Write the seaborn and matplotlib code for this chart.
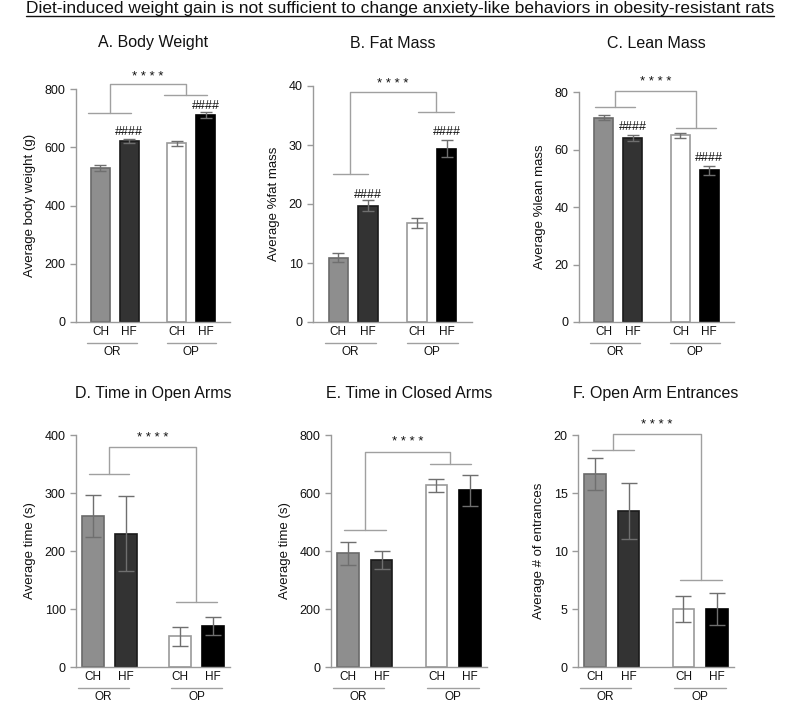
import matplotlib
matplotlib.use("Agg")
import matplotlib.pyplot as plt
from matplotlib.lines import Line2D
import numpy as np
import pandas as pd
import seaborn as sns

# bars in every panel: OR rats (chow, high fat), OP rats (chow, high fat)
bar_groups = ["OR", "OP"]
bar_diets = ["CH", "HF", "CH", "HF"]
bar_keys = ["OR-CH", "OR-HF", "OP-CH", "OP-HF"]

main_title = "Diet-induced weight gain is not sufficient to change anxiety-like behaviors in obesity-resistant rats"
panel_titles = ["A. Body Weight", "B. Fat Mass", "C. Lean Mass",
                "D. Time in Open Arms", "E. Time in Closed Arms", "F. Open Arm Entrances"]
y_labels = ["Average body weight (g)", "Average %fat mass", "Average %lean mass",
            "Average time (s)", "Average time (s)", "Average # of entrances"]
y_max = [800, 40, 80, 400, 800, 20]
y_step = [200, 10, 20, 100, 200, 5]

# means and SEM
body_weight = [528, 622, 613, 711]
body_weight_sem = [11, 8, 8, 9]
fat_mass = [10.9, 19.7, 16.7, 29.4]
fat_mass_sem = [0.8, 0.9, 0.85, 1.4]
lean_mass = [71.0, 63.9, 64.9, 52.7]
lean_mass_sem = [0.9, 1.0, 0.8, 1.5]
open_arm_time = [261, 230, 53, 71]
open_arm_time_sem = [36, 64, 16, 16]
closed_arm_time = [392, 369, 626, 609]
closed_arm_time_sem = [39, 32, 21, 54]
open_arm_entries = [16.65, 13.47, 5.0, 5.0]
open_arm_entries_sem = [1.35, 2.4, 1.08, 1.4]

panel_means = [body_weight, fat_mass, lean_mass, open_arm_time, closed_arm_time, open_arm_entries]
panel_sems = [body_weight_sem, fat_mass_sem, lean_mass_sem,
              open_arm_time_sem, closed_arm_time_sem, open_arm_entries_sem]

# "####" (diet effect) marks: (bar index, height)
hash_marks = [[(1, 651), (3, 742)], [(1, 21.6), (3, 32.2)], [(1, 67.9), (3, 57.2)], [], [], []]

# "****" phenotype bracket: OR line (y, x0, x1), OP line (y, x0, x1), top y, star y
brackets = [
    ((717, -0.42, 1.07), (780, 2.22, 3.70), 817, 840),
    ((25.1, -0.18, 1.00), (35.6, 2.67, 3.88), 38.9, 40.4),
    ((74.7, -0.29, 1.09), (67.4, 2.50, 3.88), 80.5, 83.4),
    ((332, -0.13, 1.10), (112.6, 2.53, 3.76), 379, 394),
    ((472, -0.12, 1.13), (700, 2.45, 3.69), 743, 776),
    ((18.74, -0.10, 1.17), (7.48, 2.56, 3.80), 20.1, 20.85),
]

# layout / style
bar_pos = np.array([0, 1, 2.65, 3.65])
bar_fill = ["#8e8e8e", "#333333", "#ffffff", "#000000"]
bar_edge = ["#6a6a6a", "#1a1a1a", "#9a9a9a", "#000000"]
err_color = "#6f6f6f"
line_gray = "#a0a0a0"
W, H = 800, 703
axes_px = [(76, 89, 230, 322), (313, 86, 472, 322), (579, 92, 734, 322),
           (76, 435, 230, 667), (331, 435, 487, 667), (578, 435, 734, 667)]

sns.set_style("white")
plt.rcParams["font.family"] = ["Liberation Sans", "DejaVu Sans"]
plt.rcParams["axes.edgecolor"] = "#9a9a9a"

fig = plt.figure(figsize=(W / 100, H / 100), dpi=100)

for i in range(6):
    x0, y0, x1, y1 = axes_px[i]
    ax = fig.add_axes([x0 / W, 1 - y1 / H, (x1 - x0) / W, (y1 - y0) / H])
    top_row = i < 3

    df = pd.DataFrame({"pos": bar_pos, "mean": panel_means[i], "key": bar_keys})
    sns.barplot(data=df, x="pos", y="mean", hue="key", hue_order=bar_keys,
                palette=dict(zip(bar_keys, bar_fill)), native_scale=True,
                width=0.65, saturation=1, errorbar=None, legend=False, ax=ax)
    for p in ax.patches:
        k = int(np.argmin(np.abs(bar_pos - (p.get_x() + p.get_width() / 2))))
        p.set_edgecolor(bar_edge[k])
        p.set_linewidth(1.2)
        p.set_zorder(2)
    ax.errorbar(bar_pos, panel_means[i], yerr=panel_sems[i], fmt="none",
                ecolor=err_color, elinewidth=1, capsize=4 if top_row else 5.5,
                capthick=1, zorder=3)

    ax.set_xlim((-0.85, 4.5) if top_row else (-0.52, 4.17))
    ax.set_ylim(0, y_max[i])
    ax.set_yticks(np.arange(0, y_max[i] + 1e-9, y_step[i]))
    ax.set_xticks(bar_pos, bar_diets)
    ax.tick_params(axis="x", length=0, pad=3, labelsize=8.5, labelcolor="#111111")
    ax.tick_params(axis="y", length=4, width=1, color="#9a9a9a", direction="out",
                   labelsize=9, labelcolor="#111111", left=True)
    ax.set_xlabel("")
    ax.set_ylabel(y_labels[i], fontsize=9.5, labelpad=6, color="#111111")
    sns.despine(ax=ax)
    for s in ("left", "bottom"):
        ax.spines[s].set_linewidth(1)

    # OR / OP group lines under the tick labels
    tr = ax.get_xaxis_transform()
    hpx = y1 - y0
    spans = [(-0.46, 1.27), (2.30, 4.02)] if top_row else [(-0.46, 1.08), (2.38, 3.92)]
    for (a, b), g in zip(spans, bar_groups):
        ax.plot([a, b], [-21 / hpx] * 2, color=line_gray, lw=1, transform=tr, clip_on=False)
        ax.text((a + b) / 2, -(30 if top_row else 29.5) / hpx, g, transform=tr,
                ha="center", va="center", fontsize=8.5, color="#111111")

    # significance bracket
    (ly, la, lb), (ry, ra, rb), ty, sy = brackets[i]
    lc, rc = (la + lb) / 2, (ra + rb) / 2
    ax.plot([la, lb], [ly, ly], color=line_gray, lw=1, clip_on=False)
    ax.plot([ra, rb], [ry, ry], color=line_gray, lw=1, clip_on=False)
    ax.plot([lc, lc, rc, rc], [ly, ty, ty, ry], color=line_gray, lw=1, clip_on=False)
    ax.text((lc + rc) / 2, sy, "* * * *", ha="center", va="center", fontsize=9.5,
            color="#111111", clip_on=False)
    for k, hy in hash_marks[i]:
        ax.text(bar_pos[k], hy, "####", ha="center", va="center", fontsize=9,
                color="#111111", clip_on=False)

    fig.text((x0 + x1) / 2 / W, 1 - (43 if top_row else 393) / H, panel_titles[i],
             ha="center", va="center", fontsize=11.5, color="#111111")

t = fig.text(0.5, 1 - 13 / H, main_title, ha="center", va="baseline",
             fontsize=12.5, color="#111111")
fig.canvas.draw()
bb = t.get_window_extent()
fig.add_artist(Line2D([bb.x0 / W, bb.x1 / W], [1 - 15.5 / H] * 2, color="#111111", lw=1))

fig.savefig("out.png", dpi=100)
